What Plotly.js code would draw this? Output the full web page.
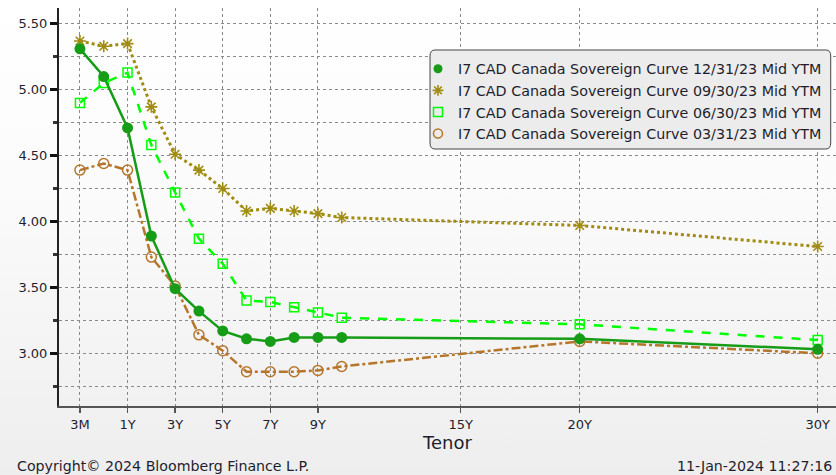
<!DOCTYPE html>
<html>
<head>
<meta charset="utf-8">
<script src="https://cdn.plot.ly/plotly-3.0.1.min.js"></script>
<style>
html,body{margin:0;padding:0;}
#chart{width:836px;height:475px;background:linear-gradient(#ffffff 0%, #fbfbfb 40%, #eeeeee 100%);}
</style>
</head>
<body>
<div id="chart"></div>
<script>
// Tenor labels
const tenors = ['3M','6M','1Y','2Y','3Y','4Y','5Y','6Y','7Y','8Y','9Y','10Y','20Y','30Y'];
// Yields (Mid YTM, %)
const curve_2023_12_31 = [5.31,5.10,4.71,3.89,3.49,3.32,3.17,3.11,3.09,3.12,3.12,3.12,3.11,3.03];
const curve_2023_09_30 = [5.37,5.33,5.35,4.87,4.51,4.39,4.25,4.08,4.10,4.08,4.06,4.03,3.97,3.81];
const curve_2023_06_30 = [4.90,5.05,5.13,4.58,4.22,3.87,3.68,3.40,3.39,3.35,3.31,3.27,3.22,3.10];
const curve_2023_03_31 = [4.39,4.44,4.39,3.73,3.51,3.14,3.02,2.86,2.86,2.86,2.87,2.90,3.09,3.00];
const seriesNames = [
  'I7 CAD Canada Sovereign Curve 12/31/23 Mid YTM',
  'I7 CAD Canada Sovereign Curve 09/30/23 Mid YTM',
  'I7 CAD Canada Sovereign Curve 06/30/23 Mid YTM',
  'I7 CAD Canada Sovereign Curve 03/31/23 Mid YTM'
];
const tickLabels = ['3M','1Y','3Y','5Y','7Y','9Y','15Y','20Y','30Y'];
const yTicks = [3.00,3.50,4.00,4.50,5.00,5.50];

// Bloomberg tenor axis: 3M and 6M occupy slots before 1Y
function tenorToX(t){
  const n = parseFloat(t);
  if (t.endsWith('M')) return n/3 - 2;
  return n;
}
const xs = tenors.map(tenorToX);
const xTickVals = tickLabels.map(tenorToX);

const styles = [
  {color:'#169c16', dash:'solid', width:2.5, symbol:'circle', size:11, lw:0},
  {color:'#a08c10', dash:'dot', width:3, symbol:'asterisk-open', size:10, lw:1.6},
  {color:'#00ff00', dash:'dash', width:2.5, symbol:'square-open', size:9, lw:1.5},
  {color:'#b5762b', dash:'dashdot', width:2.5, symbol:'circle-open', size:10, lw:1.5}
];
const data = [curve_2023_12_31, curve_2023_09_30, curve_2023_06_30, curve_2023_03_31];

const traces = [];
for (let i = data.length-1; i >= 0; i--) {
  const s = styles[i];
  traces.push({
    x: xs, y: data[i], type:'scatter', mode:'lines+markers', name: seriesNames[i],
    showlegend:false,
    line:{color:s.color, dash:s.dash, width:s.width},
    marker:{symbol:s.symbol, size:s.size, color:s.color, line:{color:s.color, width:s.lw}}
  });
}
// legend entries (marker only)
for (let i = 0; i < data.length; i++) {
  const s = styles[i];
  traces.push({
    x:[null], y:[null], type:'scatter', mode:'markers', name: seriesNames[i],
    marker:{symbol:s.symbol, size:9, color:s.color, line:{color:s.color, width:s.lw}}
  });
}

const font = "'DejaVu Sans', Tahoma, sans-serif";
const txt = '#1e1e2e';
const layout = {
  width:836, height:475,
  margin:{l:59, r:0, t:8, b:69},
  paper_bgcolor:'rgba(0,0,0,0)', plot_bgcolor:'rgba(0,0,0,0)',
  font:{family:font, size:13, color:txt},
  xaxis:{
    range:[-1.88, 30.77], tickvals:xTickVals, ticktext:tickLabels,
    showgrid:true, gridcolor:'#8a8a8a', griddash:'dot', gridwidth:1,
    zeroline:false, showline:true, linecolor:'#555', linewidth:2,
    ticks:'outside', ticklen:5, tickcolor:'#555', tickwidth:1.5,
    tickfont:{family:font, size:13, color:txt},
    title:{text:'Tenor', font:{family:font, size:18, color:txt}, standoff:6}
  },
  yaxis:{
    range:[2.60, 5.62], tickvals:yTicks, tickformat:'.2f',
    showgrid:true, gridcolor:'#8a8a8a', griddash:'dot', gridwidth:1,
    zeroline:false, showline:true, linecolor:'#222', linewidth:2,
    ticks:'outside', ticklen:7, tickcolor:'#111', tickwidth:3,
    tickfont:{family:font, size:13, color:txt},
    minor:{dtick:0.25, tick0:2.5, showgrid:true, gridcolor:'#8a8a8a', griddash:'dot', gridwidth:1, ticks:'outside', ticklen:4, tickcolor:'#333'}
  },
  legend:{
    x:0.462, y:0.887, xanchor:'left', yanchor:'top',
    bgcolor:'rgba(0,0,0,0)', borderwidth:0,
    font:{family:font, size:14.3, color:txt},
    itemwidth:30, tracegroupgap:0
  },
  shapes:[
    {type:'path', xref:'paper', yref:'paper', layer:'above',
     path:'M 0.4840 0.8945 L 0.9868 0.8945 Q 0.9932 0.8945 0.9932 0.8795 L 0.9932 0.6607 Q 0.9932 0.6457 0.9868 0.6457 L 0.4840 0.6457 Q 0.4775 0.6457 0.4775 0.6607 L 0.4775 0.8795 Q 0.4775 0.8945 0.4840 0.8945 Z',
     fillcolor:'#ececec', line:{color:'#444', width:1}}
  ],
  annotations:[
    {text:'Copyright\u00a9 2024 Bloomberg Finance L.P.', xref:'paper', yref:'paper', x:-0.057, y:-0.151, xanchor:'left', yanchor:'middle', showarrow:false, font:{family:font, size:14.2, color:txt}},
    {text:'11-Jan-2024 11:27:16', xref:'paper', yref:'paper', x:0.997, y:-0.151, xanchor:'right', yanchor:'middle', showarrow:false, font:{family:font, size:14.2, color:txt}}
  ],
  showlegend:true
};
Plotly.newPlot('chart', traces, layout, {displayModeBar:false, staticPlot:true});
</script>
</body>
</html>
